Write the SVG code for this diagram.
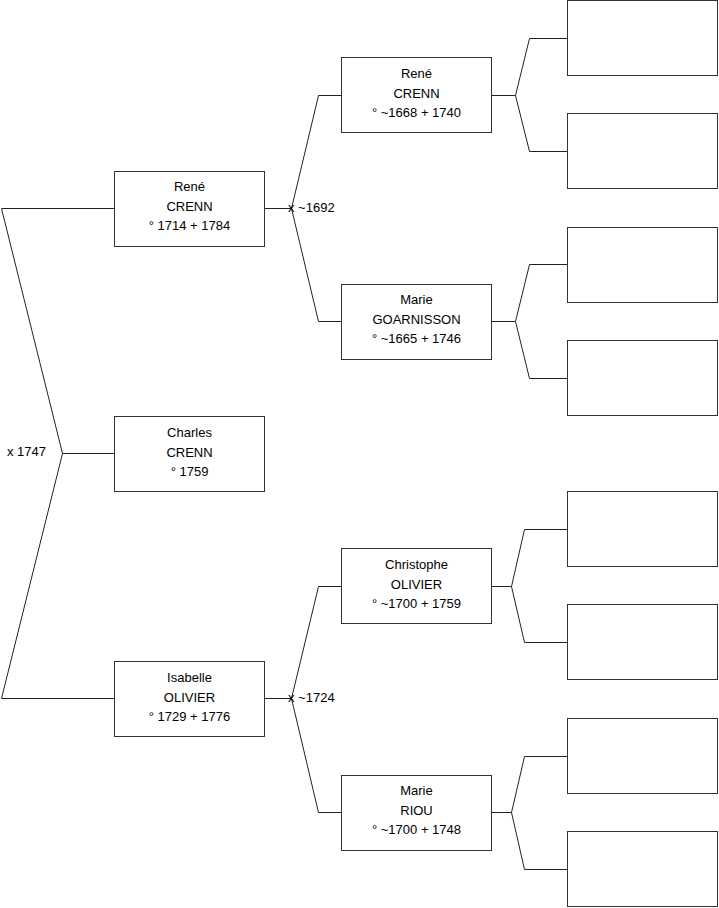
<svg xmlns="http://www.w3.org/2000/svg" width="719" height="908" viewBox="0 0 719 908">
<style>
.box{fill:#fff;stroke:#333;stroke-width:1}
.t{font-family:"Liberation Sans",Arial,sans-serif;font-size:13px;fill:#000;text-anchor:middle}
.l{font-family:"Liberation Sans",Arial,sans-serif;font-size:13px;fill:#000}
.c{fill:none;stroke:#222;stroke-width:1}
</style>
<rect width="719" height="908" fill="#fff"/>
<g id="connectors">
<polyline class="c" points="114.5,208.5 1.5,208.5 62.5,453.5 1.5,698.5 114.5,698.5"/>
<line class="c" x1="62.5" y1="453.5" x2="114.5" y2="453.5"/>
<polyline class="c" points="265,208.5 291.5,208.5"/>
<polyline class="c" points="341,95.5 318.5,95.5 291.5,208.5 318.5,321.5 341,321.5"/>
<polyline class="c" points="265,698.5 291.5,698.5"/>
<polyline class="c" points="341,586.5 318.5,586.5 291.5,698.5 318.5,812.5 341,812.5"/>
<line class="c" x1="491" y1="95.5" x2="515.5" y2="95.5"/>
<polyline class="c" points="567,38.5 529.5,38.5 515.5,95.5 529.5,151.5 567,151.5"/>
<line class="c" x1="491" y1="321.5" x2="515.5" y2="321.5"/>
<polyline class="c" points="567,264.5 529.5,264.5 515.5,321.5 529.5,378.5 567,378.5"/>
<line class="c" x1="491" y1="586.5" x2="511.5" y2="586.5"/>
<polyline class="c" points="567,529.5 524.5,529.5 511.5,586.5 524.5,642.5 567,642.5"/>
<line class="c" x1="491" y1="812.5" x2="511.5" y2="812.5"/>
<polyline class="c" points="567,756.5 524.5,756.5 511.5,812.5 524.5,869.5 567,869.5"/>
<text class="l" x="7" y="456">x 1747</text>
<text class="l" x="288" y="212">x ~1692</text>
<text class="l" x="288" y="702">x ~1724</text>
</g>
<g id="p1"><rect class="box" x="114.5" y="171.5" width="150" height="75"/><text class="t" x="189.5" y="191">René</text><text class="t" x="189.5" y="211">CRENN</text><text class="t" x="189.5" y="230">° 1714 + 1784</text></g>
<g id="p0"><rect class="box" x="114.5" y="416.5" width="150" height="75"/><text class="t" x="189.5" y="437">Charles</text><text class="t" x="189.5" y="457">CRENN</text><text class="t" x="189.5" y="476">° 1759</text></g>
<g id="p2"><rect class="box" x="114.5" y="661.5" width="150" height="75"/><text class="t" x="189.5" y="682">Isabelle</text><text class="t" x="189.5" y="702">OLIVIER</text><text class="t" x="189.5" y="721">° 1729 + 1776</text></g>
<g id="p3"><rect class="box" x="341.5" y="57.5" width="150" height="75"/><text class="t" x="416.5" y="78">René</text><text class="t" x="416.5" y="98">CRENN</text><text class="t" x="416.5" y="117">° ~1668 + 1740</text></g>
<g id="p4"><rect class="box" x="341.5" y="284.5" width="150" height="75"/><text class="t" x="416.5" y="304">Marie</text><text class="t" x="416.5" y="324">GOARNISSON</text><text class="t" x="416.5" y="343">° ~1665 + 1746</text></g>
<g id="p5"><rect class="box" x="341.5" y="548.5" width="150" height="75"/><text class="t" x="416.5" y="569">Christophe</text><text class="t" x="416.5" y="589">OLIVIER</text><text class="t" x="416.5" y="608">° ~1700 + 1759</text></g>
<g id="p6"><rect class="box" x="341.5" y="775.5" width="150" height="75"/><text class="t" x="416.5" y="795">Marie</text><text class="t" x="416.5" y="815">RIOU</text><text class="t" x="416.5" y="834">° ~1700 + 1748</text></g>
<g id="e1"><rect class="box" x="567.5" y="0.5" width="150" height="75"/></g>
<g id="e2"><rect class="box" x="567.5" y="113.5" width="150" height="75"/></g>
<g id="e3"><rect class="box" x="567.5" y="227.5" width="150" height="75"/></g>
<g id="e4"><rect class="box" x="567.5" y="340.5" width="150" height="75"/></g>
<g id="e5"><rect class="box" x="567.5" y="491.5" width="150" height="75"/></g>
<g id="e6"><rect class="box" x="567.5" y="604.5" width="150" height="75"/></g>
<g id="e7"><rect class="box" x="567.5" y="718.5" width="150" height="75"/></g>
<g id="e8"><rect class="box" x="567.5" y="831.5" width="150" height="75"/></g>
</svg>
